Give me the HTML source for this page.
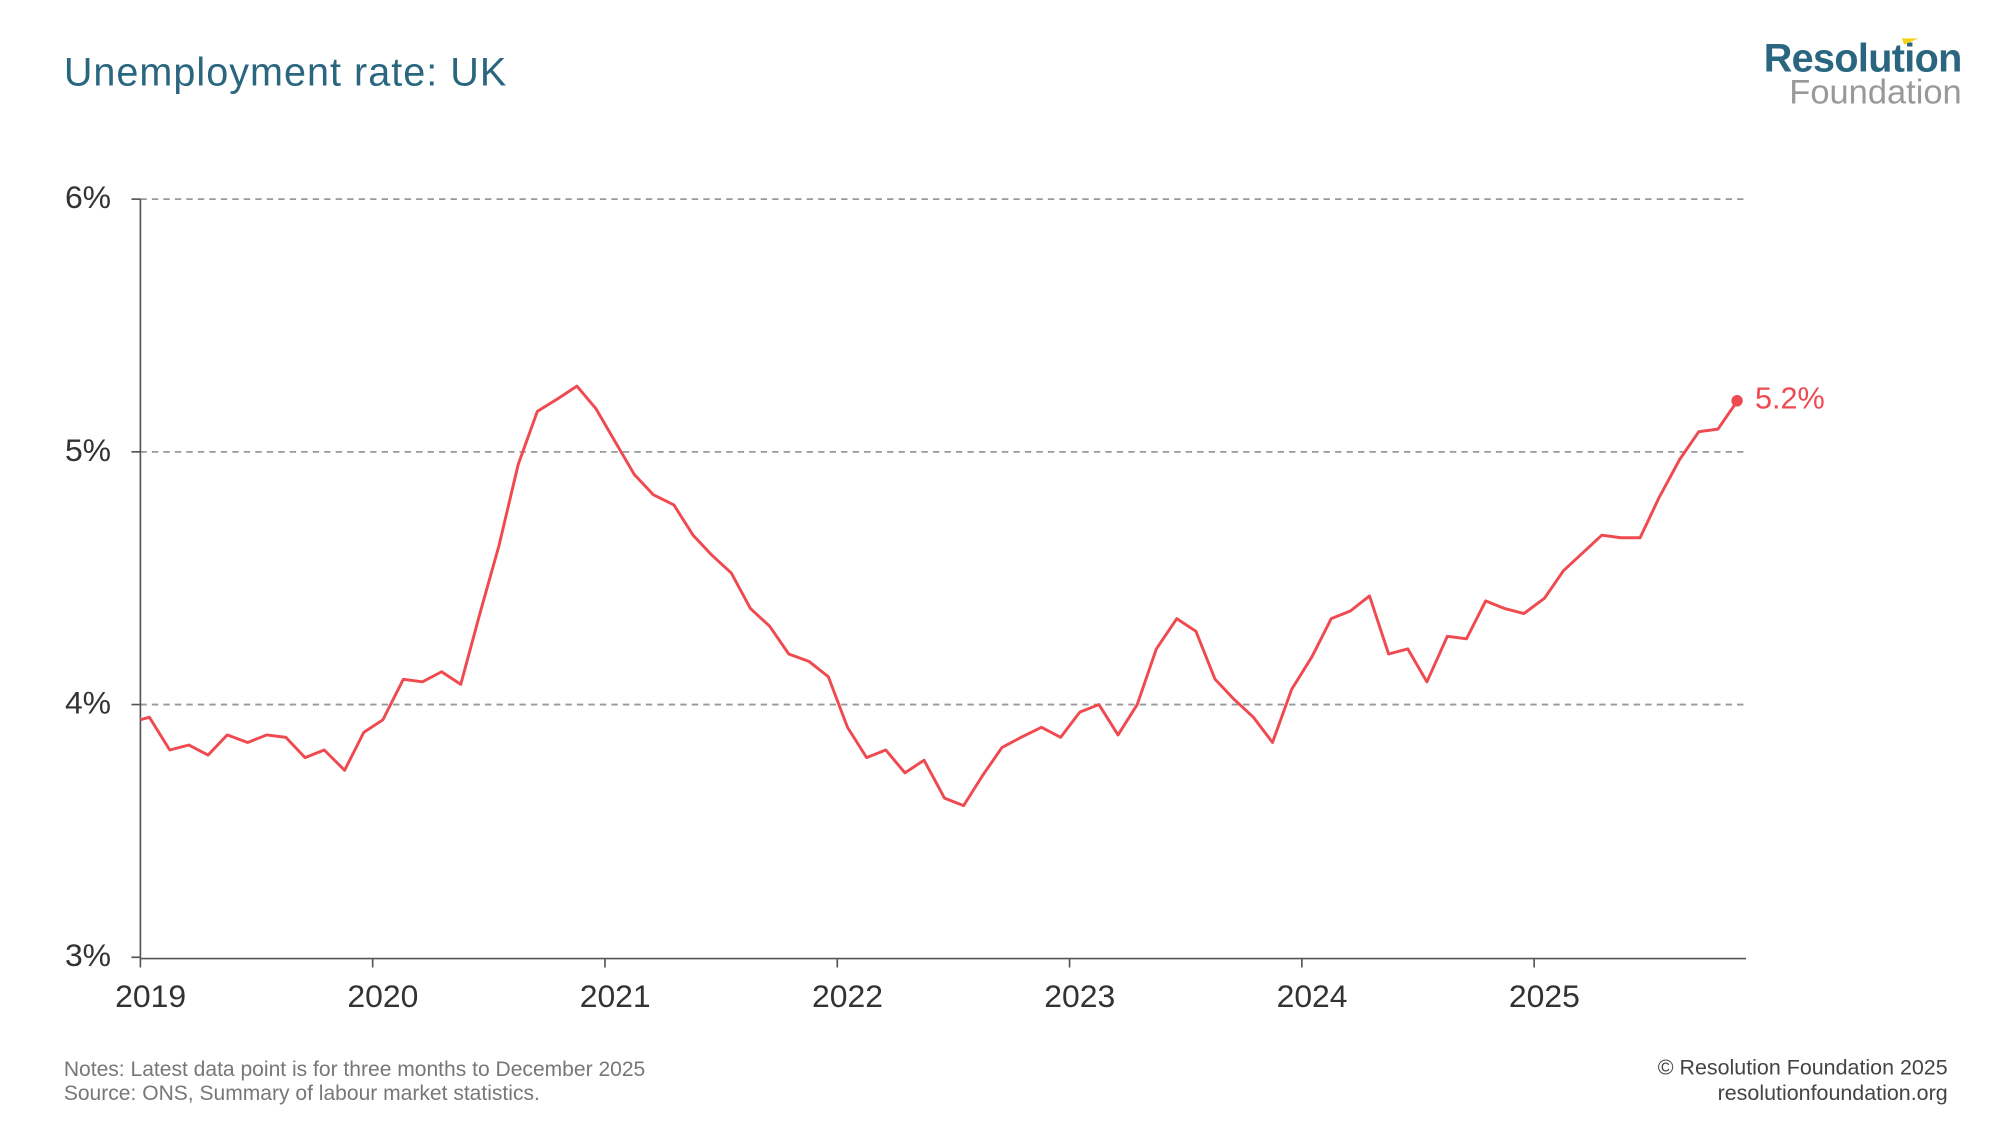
<!DOCTYPE html>
<html><head><meta charset="utf-8"><style>
html,body{margin:0;padding:0;background:#fff;}
svg{display:block;}
text{font-family:"Liberation Sans",sans-serif;}
</style></head><body>
<svg width="2000" height="1125" viewBox="0 0 1567 881.4" xmlns="http://www.w3.org/2000/svg">
<rect width="1567" height="881.4" fill="#fff"/>
<text x="50" y="67" font-size="31" fill="#2a6680" letter-spacing="0.8">Unemployment rate: UK</text>
<text x="1537" y="56" font-size="31" font-weight="bold" fill="#2a6680" text-anchor="end" letter-spacing="-0.5">Resolution</text>
<polygon points="1490,30 1503,30 1492,35" fill="#f2d219"/>
<text x="1537" y="81" font-size="27" fill="#999" text-anchor="end">Foundation</text>
<g stroke="#999" stroke-dasharray="5,4" stroke-width="1.4">
<line x1="110" y1="156" x2="1368" y2="156"/>
<line x1="110" y1="354" x2="1368" y2="354"/>
<line x1="110" y1="552" x2="1368" y2="552"/>
</g>
<g stroke="#555" stroke-width="1.3">
<line x1="110" y1="156" x2="110" y2="751"/>
<line x1="110" y1="751" x2="1368" y2="751"/>
<line x1="103" y1="156" x2="110" y2="156"/><line x1="103" y1="354" x2="110" y2="354"/><line x1="103" y1="552" x2="110" y2="552"/><line x1="103" y1="750" x2="110" y2="750"/>
<line x1="110" y1="751" x2="110" y2="758"/><line x1="292" y1="751" x2="292" y2="758"/><line x1="474" y1="751" x2="474" y2="758"/><line x1="656" y1="751" x2="656" y2="758"/><line x1="838" y1="751" x2="838" y2="758"/><line x1="1020" y1="751" x2="1020" y2="758"/><line x1="1202" y1="751" x2="1202" y2="758"/>
</g>
<g font-size="25" fill="#333" text-anchor="end">
<text x="87" y="163">6%</text><text x="87" y="361">5%</text><text x="87" y="559">4%</text><text x="87" y="757">3%</text>
</g>
<g font-size="25" fill="#333" text-anchor="middle">
<text x="118" y="789">2019</text><text x="300" y="789">2020</text><text x="482" y="789">2021</text><text x="664" y="789">2022</text><text x="846" y="789">2023</text><text x="1028" y="789">2024</text><text x="1210" y="789">2025</text>
</g>
<polyline fill="none" stroke="#ee4a50" stroke-width="2.3" stroke-linejoin="round" points="110,563.9 117,561.9 133,587.6 148,583.7 163,591.6 178,575.8 194,581.7 209,575.8 224,577.7 239,593.6 254,587.6 270,603.5 285,573.8 300,563.9 316,532.2 331,534.2 346,526.3 361,536.2 376,480.7 391,427.3 406,363.9 421,322.3 437,312.4 452,302.5 467,320.3 482,346.1 497,371.8 512,387.7 528,395.6 543,419.3 558,435.2 573,449 588,476.8 603,490.6 618,512.4 634,518.3 649,530.2 664,569.8 679,593.6 694,587.6 709,605.5 724,595.6 740,625.3 755,631.2 770,607.4 785,585.7 800,577.7 816,569.8 831,577.7 846,557.9 861,552 876,575.8 891,552 906,508.4 922,484.7 937,494.6 952,532.2 967,548 982,561.9 997,581.7 1012,540.1 1028,514.4 1043,484.7 1058,478.7 1073,466.9 1088,512.4 1103,508.4 1118,534.2 1134,498.5 1149,500.5 1164,470.8 1179,476.8 1194,480.7 1210,468.8 1225,447.1 1240,433.2 1255,419.3 1270,421.3 1285,421.3 1300,389.6 1316,360 1331,338.2 1346,336.2 1361,314.4"/>
<circle cx="1361" cy="314" r="4.5" fill="#ee4a50"/>
<text x="1375" y="320" font-size="24" fill="#ee4a50">5.2%</text>
<g font-size="16.5" fill="#777">
<text x="50" y="843">Notes: Latest data point is for three months to December 2025</text>
<text x="50" y="862">Source: ONS, Summary of labour market statistics.</text>
</g>
<g font-size="16.8" fill="#444" text-anchor="end">
<text x="1526" y="842">© Resolution Foundation 2025</text>
<text x="1526" y="862">resolutionfoundation.org</text>
</g>
</svg>
</body></html>
